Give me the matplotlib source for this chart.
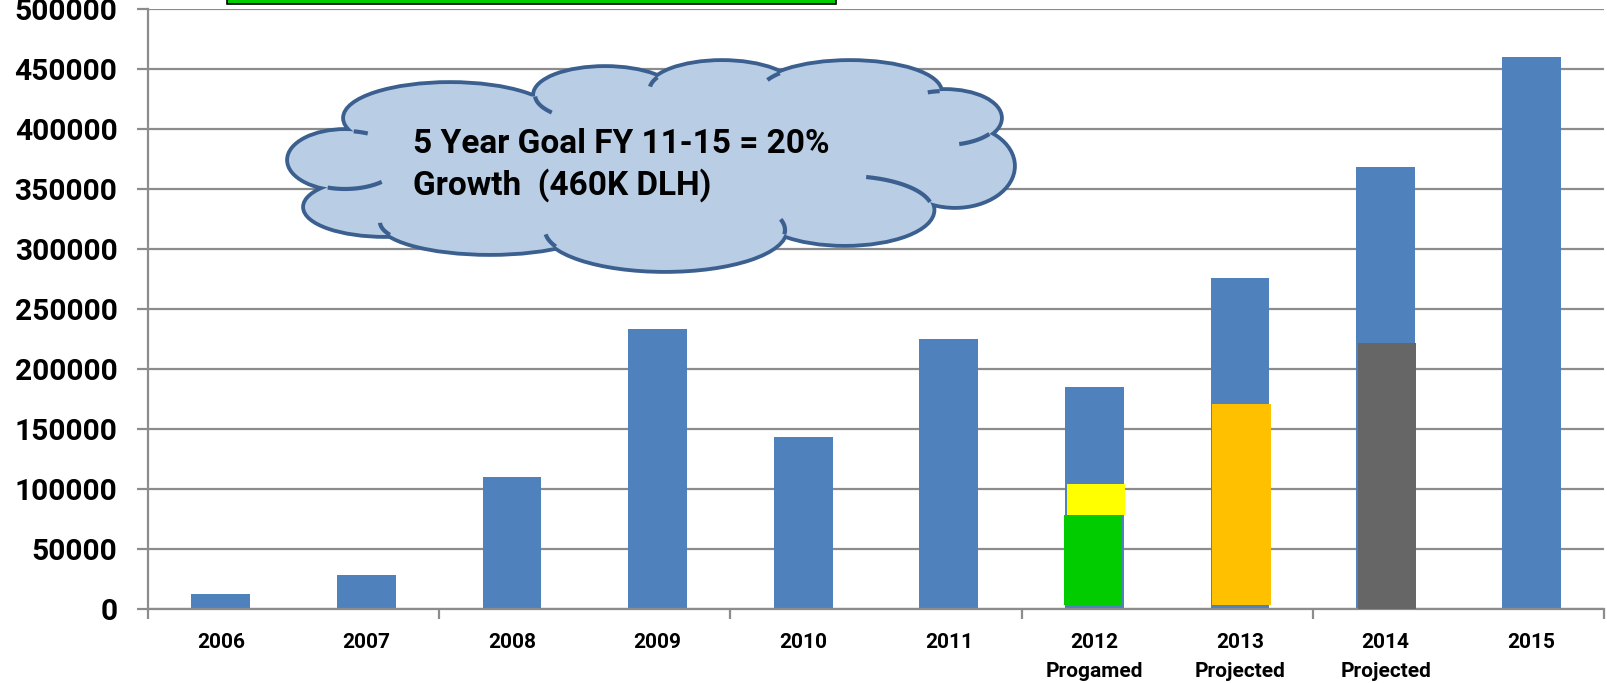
import numpy as np
import matplotlib
matplotlib.use('Agg')
import matplotlib.pyplot as plt
from matplotlib.patches import Ellipse, Rectangle

plt.rcParams['font.family'] = ['Roboto', 'DejaVu Sans']
plt.rcParams['font.weight'] = 'bold'

years = ['2006', '2007', '2008', '2009', '2010', '2011', '2012', '2013', '2014', '2015']
sub_labels = ['', '', '', '', '', '', 'Progamed', 'Projected', 'Projected', '']
totals = [12500, 28000, 110000, 233000, 143000, 225000, 185000, 276000, 368000, 460000]

# coloured blocks drawn over some of the bars
overlay_years = ['2012', '2012', '2013', '2014']
overlay_low = [3000, 78000, 3000, 0]
overlay_high = [78000, 104000, 171000, 222000]
overlay_colors = ['#00cc00', '#ffff00', '#ffc000', '#666666']

y_ticks = [0, 50000, 100000, 150000, 200000, 250000, 300000, 350000, 400000, 450000, 500000]

cloud_lines = ['5 Year Goal FY 11-15 = 20%', 'Growth  (460K DLH)']

W, H = 1608, 683
fig = plt.figure(figsize=(W / 100, H / 100), dpi=100)
ax = fig.add_axes([148 / W, 74 / H, 1456 / W, 600 / H])

x = list(range(len(years)))
ax.bar(x, totals, width=0.405, color='#4f81bd', zorder=2)

shift = [-0.01, 0.01, 0.01, 0.01]
for k, yr in enumerate(overlay_years):
    i = years.index(yr) + shift[k]
    ax.bar(i, overlay_high[k] - overlay_low[k], bottom=overlay_low[k], width=0.4,
           color=overlay_colors[k], zorder=3)

ax.set_xlim(-0.5, 9.5)
ax.set_ylim(0, 500000)
grid_c = '#8c8c8c'
ax.set_yticks(y_ticks)
ax.set_yticklabels([str(v) for v in y_ticks])
ax.yaxis.grid(True, color=grid_c, lw=1.6)
ax.set_axisbelow(True)
for s in ['top', 'right']:
    ax.spines[s].set_visible(False)
for s in ['left', 'bottom']:
    ax.spines[s].set_color(grid_c)
    ax.spines[s].set_linewidth(1.6)
ax.tick_params(axis='y', length=8, width=1.6, color=grid_c, pad=14, labelsize=21.5)

ax.set_xticks([])
ax.set_xticks([-0.5, 1.5, 3.5, 5.5, 7.5, 9.5], minor=True)
ax.tick_params(axis='x', which='minor', length=7, width=1.6, color=grid_c)
for i, yr in enumerate(years):
    ax.text(i, -0.065, yr, transform=ax.get_xaxis_transform(), ha='center',
            va='baseline', fontsize=15, fontweight='bold')
    if sub_labels[i]:
        ax.text(i, -0.113, sub_labels[i], transform=ax.get_xaxis_transform(),
                ha='center', va='baseline', fontsize=15, fontweight='bold')

# overlay in pixel coordinates for the callout shapes
ov = fig.add_axes([0, 0, 1, 1], zorder=5)
ov.set_xlim(0, W)
ov.set_ylim(H, 0)
ov.axis('off')
ov.patch.set_alpha(0)

# green box cut off at the top edge
ov.add_patch(Rectangle((227, -8), 609, 12, fc='#00cc00', ec='black', lw=1.2))

fill_c = '#b9cde5'
edge_c = '#3b6090'
lobes = [
    (345, 160, 112, 58), (385, 207, 160, 56), (490, 222, 220, 62), (665, 230, 240, 80),
    (845, 210, 175, 68), (955, 166, 116, 80), (945, 118, 110, 54), (850, 92, 180, 60),
    (722, 90, 145, 56), (605, 95, 140, 54), (450, 118, 210, 68),
]
core = (655, 165, 600, 150)
for cx, cy, w, h in lobes:
    ov.add_patch(Ellipse((cx, cy), w, h, fc=edge_c, ec=edge_c, lw=5.5, zorder=1))
for cx, cy, w, h in lobes + [core]:
    ov.add_patch(Ellipse((cx, cy), w, h, fc=fill_c, ec='none', zorder=2))


def ring(e, n=1440):
    t = np.linspace(0, 2 * np.pi, n, endpoint=False)
    return e[0] + e[2] / 2 * np.cos(t), e[1] + e[3] / 2 * np.sin(t)


def inside(px, py, e):
    return ((px - e[0]) / (e[2] / 2)) ** 2 + ((py - e[1]) / (e[3] / 2)) ** 2 < 0.995


# inner strokes: lobe index, junction point near outline, stroke length in px
strokes = [(0, 362, 137, 14), (0, 313, 185, 55), (2, 404, 228, 16), (9, 547, 97, 24),
           (8, 665, 85, 12), (7, 778, 82, 14), (6, 932, 93, 12), (6, 990, 136, 32),
           (4, 917, 208, 70), (3, 773, 228, 16), (3, 557, 242, 16)]
for k, jx, jy, L in strokes:
    px, py = ring(lobes[k])
    hidden = np.zeros(len(px), bool)
    for m, e in enumerate(lobes + [core]):
        if m != k:
            hidden |= inside(px, py, e)
    n = len(px)
    trans = [i for i in range(n) if hidden[i] != hidden[i - 1]]
    if not trans:
        continue
    i0 = min(trans, key=lambda i: (px[i] - jx) ** 2 + (py[i] - jy) ** 2)
    step = 1 if hidden[i0] else -1
    start = i0 if hidden[i0] else i0 - 1
    xs, ys, dist, i = [px[start]], [py[start]], 0.0, start
    while dist < L:
        j = (i + step) % n
        dist += np.hypot(px[j] - px[i], py[j] - py[i])
        xs.append(px[j])
        ys.append(py[j])
        i = j
    ov.plot(xs, ys, color=edge_c, lw=3.0, solid_capstyle='butt', zorder=3)

ov.text(413, 153, cloud_lines[0], fontsize=24, fontweight='bold', ha='left', va='baseline',
        zorder=4)
ov.text(413, 195, cloud_lines[1], fontsize=24, fontweight='bold', ha='left', va='baseline',
        zorder=4)

fig.savefig('out.png', dpi=100)
